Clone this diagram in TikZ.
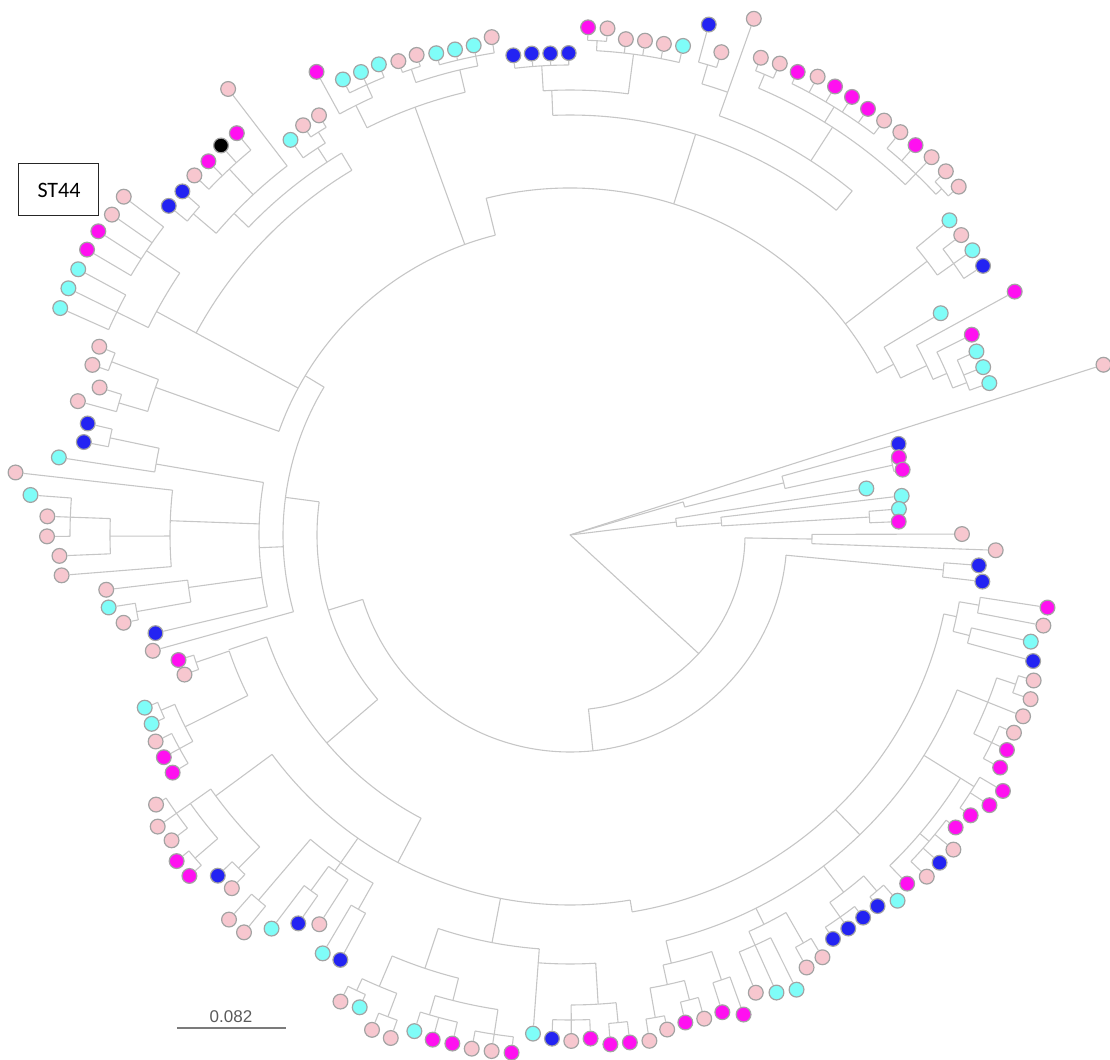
\documentclass[tikz,border=0pt]{standalone}
\usepackage{fontspec}
\newfontfamily\boxfont{Carlito}
\newfontfamily\barfont{Liberation Sans}
\usepackage{tikz}
\usetikzlibrary{backgrounds}
\definecolor{Branch}{HTML}{C6C6C6}
\definecolor{Rim}{HTML}{A3A3A3}
\definecolor{PinkTip}{HTML}{F7C7CF}
\definecolor{MagTip}{HTML}{FF10F0}
\definecolor{CyanTip}{HTML}{7FFDF8}
\definecolor{BlueTip}{HTML}{2323F2}
\definecolor{BarInk}{HTML}{5A5A5A}
\tikzset{
  branch/.style={draw=Branch,line width=.55pt},
  leaf/.style={circle,draw=Rim,line width=.6pt,minimum size=7.4pt,inner sep=0pt},
  pinkl/.style={leaf,fill=PinkTip},
  magl/.style={leaf,fill=MagTip},
  cyanl/.style={leaf,fill=CyanTip},
  bluel/.style={leaf,fill=BlueTip},
  blackl/.style={leaf,fill=black},
  stbox/.style={draw=black!85,line width=.5pt,minimum width=40pt,minimum height=26pt,font=\boxfont\fontsize{11}{13}\selectfont},
  barlab/.style={font=\barfont\fontsize{8.5}{10}\selectfont,text=BarInk,inner sep=1pt}
}
% parent radius, radius, attach index, first index, last index
\newcommand{\clade}[5]{%
  \begin{pgfonlayer}{background}
  \draw[branch] ({ta(#3)}:#1) -- ({ta(#3)}:#2);
  \draw[branch] ({ta(#4)}:#2) arc[start angle={ta(#4)},end angle={ta(#5)},radius=#2];
  \end{pgfonlayer}}
% index, parent radius, radius, style
\newcommand{\leaf}[4]{%
  \node[#4] (t#1) at ({ta(#1)}:#3) {};
  \draw[branch] ({ta(#1)}:#2) -- (t#1);}

\begin{document}
\begin{tikzpicture}[x=.5pt,y=.5pt,declare function={ta(\k)=17.7-(\k-1)*2.195;}]
  \useasboundingbox (-570,-525) rectangle (540,535);

  % right fan
  \leaf{1}{0}{560}{pinkl}
  \clade{0}{118}{1.64}{1.64}{2.82}
  \clade{118}{220}{2.82}{2}{3.5}
  \leaf{2}{220}{341}{bluel}
  \clade{220}{330}{3.5}{3}{4}
  \leaf{3}{330}{338}{magl} \leaf{4}{330}{339}{magl}
  \clade{0}{107}{5.9}{5}{7}
  \leaf{5}{107}{300}{cyanl}
  \clade{107}{152}{7}{6}{7.5}
  \leaf{6}{152}{334}{cyanl}
  \clade{152}{300}{7.5}{7}{8}
  \leaf{7}{300}{330}{cyanl} \leaf{8}{300}{329}{magl}

  % inner spine
  \clade{0}{175}{28.5}{9.5}{47.3}
  \clade{175}{242}{9.5}{9}{10}
  \leaf{9}{242}{392}{pinkl} \leaf{10}{242}{426}{pinkl}
  \clade{175}{217}{47.3}{11.5}{83.2}
  \clade{217}{375}{11.5}{11}{12}
  \leaf{11}{375}{410}{bluel} \leaf{12}{375}{415}{bluel}
  \clade{217}{253}{83.2}{72.6}{94.5}

  % lower left
  \clade{253}{320}{72.6}{62.7}{82.6}
  \clade{320}{360}{82.6}{79}{82.5}
  \clade{360}{430}{79}{78}{80.5}
  \clade{430}{445}{78}{77}{79}
  \leaf{77}{445}{463}{magl} \leaf{78}{445}{463}{magl} \leaf{79}{445}{463}{pinkl}
  \clade{430}{445}{80.5}{80}{81}
  \leaf{80}{445}{459}{cyanl} \leaf{81}{445}{459}{cyanl}
  \clade{360}{395}{82.5}{82}{83}
  \leaf{82}{395}{410}{pinkl} \leaf{83}{395}{411}{magl}
  \clade{320}{370}{62.7}{45.8}{74.5}
  \clade{370}{440}{74.5}{70.5}{75}
  \clade{440}{470}{70.5}{70}{71}
  \leaf{70}{470}{489}{pinkl} \leaf{71}{470}{490}{bluel}
  \clade{440}{465}{75}{72.5}{75}
  \clade{465}{495}{72.5}{72}{73}
  \leaf{72}{495}{511}{magl} \leaf{73}{495}{511}{magl}
  \clade{465}{482}{75}{74}{76}
  \leaf{74}{482}{502}{pinkl} \leaf{75}{482}{505}{pinkl} \leaf{76}{482}{494}{pinkl}
  \clade{370}{400}{66}{63.5}{68.5}
  \clade{400}{430}{63.5}{63}{64}
  \leaf{63}{430}{483}{bluel} \leaf{64}{430}{486}{cyanl}
  \clade{400}{410}{66}{65}{66.5}
  \leaf{65}{410}{463}{pinkl}
  \clade{410}{440}{66.5}{66}{67}
  \leaf{66}{440}{474}{bluel} \leaf{67}{440}{494}{cyanl}
  \clade{400}{480}{68.5}{68}{69}
  \leaf{68}{480}{514}{pinkl} \leaf{69}{480}{514}{pinkl}

  % bottom
  \clade{370}{415}{55}{52}{58.5}
  \clade{415}{457}{58.5}{56.5}{60.5}
  \clade{457}{480}{56.5}{54}{57.5}
  \clade{480}{505}{54}{53}{55}
  \leaf{53}{505}{521}{magl} \leaf{54}{505}{522}{pinkl} \leaf{55}{505}{523}{pinkl}
  \clade{480}{500}{57.5}{56}{58}
  \leaf{56}{500}{522}{magl} \leaf{57}{500}{523}{magl} \leaf{58}{500}{520}{cyanl}
  \clade{457}{490}{60.5}{59.5}{61.5}
  \clade{490}{515}{59.5}{59}{60}
  \leaf{59}{515}{534}{pinkl} \leaf{60}{515}{533}{pinkl}
  \clade{490}{503}{61.5}{61}{62}
  \leaf{61}{503}{517}{cyanl} \leaf{62}{503}{520}{pinkl}
  \clade{415}{429}{52}{48.5}{52}
  \leaf{52}{429}{500}{cyanl}
  \clade{429}{470}{48.5}{47.5}{50}
  \clade{470}{490}{47.5}{47}{48}
  \leaf{47}{490}{511}{magl} \leaf{48}{490}{511}{magl}
  \clade{470}{485}{50}{49}{51}
  \leaf{49}{485}{504}{magl} \leaf{50}{485}{506}{pinkl} \leaf{51}{485}{504}{bluel}

  % lower right
  \clade{370}{382}{45.8}{14.5}{45.8}
  \clade{382}{395}{14.5}{13.5}{15.5}
  \clade{395}{415}{13.5}{13}{14}
  \leaf{13}{415}{483}{magl} \leaf{14}{415}{482}{pinkl}
  \clade{395}{412}{15.5}{15}{16}
  \leaf{15}{412}{473}{cyanl} \leaf{16}{412}{480}{bluel}
  \clade{382}{417}{30}{19}{44}
  \clade{417}{450}{19}{17.5}{21}
  \clade{450}{470}{17.5}{17}{18}
  \leaf{17}{470}{486}{pinkl} \leaf{18}{470}{489}{pinkl}
  \leaf{19}{450}{488}{pinkl}
  \clade{450}{470}{21}{20}{22}
  \leaf{20}{470}{486}{pinkl} \leaf{21}{470}{487}{magl} \leaf{22}{470}{489}{magl}
  \clade{417}{460}{23.6}{23.6}{30}
  \clade{460}{476}{23.6}{23}{25}
  \leaf{23}{476}{503}{magl} \leaf{24}{476}{499}{magl} \leaf{25}{476}{489}{magl}
  \clade{460}{472}{27.5}{26}{29}
  \leaf{26}{472}{484}{magl} \leaf{27}{472}{496}{pinkl} \leaf{28}{472}{494}{bluel} \leaf{29}{472}{494}{pinkl}
  \leaf{30}{460}{485}{magl}
  \clade{417}{450}{33}{31.5}{34}
  \clade{450}{470}{31.5}{31}{32}
  \leaf{31}{470}{491}{cyanl} \leaf{32}{470}{482}{bluel}
  \clade{450}{468}{34}{33}{35}
  \leaf{33}{468}{482}{bluel} \leaf{34}{468}{482}{bluel} \leaf{35}{468}{482}{bluel}
  \clade{417}{435}{38}{36.5}{39}
  \clade{435}{470}{36.5}{36}{37}
  \leaf{36}{470}{492}{pinkl} \leaf{37}{470}{493}{pinkl}
  \clade{435}{450}{39}{38}{40}
  \leaf{38}{450}{508}{cyanl} \leaf{39}{450}{502}{cyanl} \leaf{40}{450}{494}{pinkl}
  \clade{417}{440}{44}{41.5}{44.5}
  \clade{440}{470}{41.5}{41}{42}
  \leaf{41}{470}{510}{magl} \leaf{42}{470}{501}{magl}
  \clade{440}{460}{44.5}{43.5}{45.5}
  \clade{460}{480}{43.5}{43}{44}
  \leaf{43}{480}{502}{pinkl} \leaf{44}{480}{501}{magl}
  \clade{460}{490}{45.5}{45}{46}
  \leaf{45}{490}{504}{pinkl} \leaf{46}{490}{512}{pinkl}

  % left
  \clade{253}{287}{94.5}{84}{105.2}
  \leaf{84}{287}{433}{pinkl}
  \clade{287}{311}{90}{85}{95.5}
  \leaf{85}{311}{426}{bluel}
  \clade{311}{385}{87.5}{86.5}{88}
  \clade{385}{440}{86.5}{86}{87}
  \leaf{86}{440}{455}{pinkl} \leaf{87}{440}{467}{cyanl}
  \leaf{88}{385}{467}{pinkl}
  \clade{311}{400}{92}{89}{94}
  \leaf{89}{400}{510}{pinkl}
  \clade{400}{460}{91}{90}{92}
  \leaf{90}{460}{511}{pinkl}
  \clade{460}{500}{92}{91}{93}
  \leaf{91}{500}{523}{pinkl} \leaf{92}{500}{523}{pinkl} \leaf{93}{500}{541}{cyanl}
  \leaf{94}{400}{558}{pinkl}
  \clade{311}{420}{95.5}{95}{96.5}
  \leaf{95}{420}{517}{cyanl}
  \clade{420}{470}{96.5}{96}{97}
  \leaf{96}{470}{495}{bluel} \leaf{97}{470}{495}{bluel}

  % upper left
  \clade{287}{309}{105.2}{100}{125.7}
  \clade{309}{440}{100}{98.5}{100.5}
  \clade{440}{470}{98.5}{98}{99}
  \leaf{98}{470}{510}{pinkl} \leaf{99}{470}{493}{pinkl}
  \clade{440}{490}{100.5}{100}{101}
  \leaf{100}{490}{507}{pinkl} \leaf{101}{490}{507}{pinkl}
  \clade{309}{425}{104}{104}{118}
  \clade{425}{470}{104}{103}{106.5}
  \clade{470}{505}{103}{102}{104}
  \leaf{102}{505}{558}{cyanl} \leaf{103}{505}{559}{cyanl} \leaf{104}{505}{559}{cyanl}
  \clade{470}{510}{106.5}{105}{108}
  \leaf{105}{510}{561}{magl} \leaf{106}{510}{561}{magl} \leaf{107}{510}{559}{pinkl} \leaf{108}{510}{560}{pinkl}
  \clade{425}{445}{118}{111}{118}
  \clade{445}{465}{111}{109.5}{115}
  \clade{465}{495}{109.5}{109}{110}
  \leaf{109}{495}{519}{bluel} \leaf{110}{495}{518}{bluel}
  \clade{465}{500}{112.5}{111}{114}
  \leaf{111}{500}{520}{pinkl} \leaf{112}{500}{520}{magl} \leaf{113}{500}{523}{blackl} \leaf{114}{500}{522}{magl}
  \leaf{115}{465}{562}{pinkl}
  \clade{445}{462}{117}{116}{117.5}
  \leaf{116}{462}{484}{cyanl}
  \clade{462}{475}{117.5}{117}{118}
  \leaf{117}{475}{489}{pinkl} \leaf{118}{475}{489}{pinkl}
  \clade{309}{455}{123}{120}{126}
  \clade{455}{480}{120}{119}{121}
  \leaf{119}{480}{528}{magl}
  \clade{480}{494}{121}{120}{122}
  \leaf{120}{494}{509}{cyanl} \leaf{121}{494}{508}{cyanl} \leaf{122}{494}{508}{cyanl}
  \clade{455}{478}{126}{123.5}{127}
  \clade{478}{492}{123.5}{123}{124}
  \leaf{123}{492}{504}{pinkl} \leaf{124}{492}{504}{pinkl}
  \clade{478}{488}{127}{125}{128}
  \leaf{125}{488}{500}{cyanl} \leaf{126}{488}{499}{cyanl} \leaf{127}{488}{499}{cyanl} \leaf{128}{488}{504}{pinkl}

  % top and upper right
  \clade{309}{347}{125.7}{125.7}{160.4}
  \clade{347}{420}{140}{131}{150}
  \clade{420}{445}{131}{130.5}{135.5}
  \clade{445}{470}{130.5}{129}{132}
  \leaf{129}{470}{483}{bluel} \leaf{130}{470}{483}{bluel} \leaf{131}{470}{482}{bluel} \leaf{132}{470}{482}{bluel}
  \clade{445}{485}{135.5}{133.5}{138}
  \clade{485}{495}{133.5}{133}{134}
  \leaf{133}{495}{508}{magl} \leaf{134}{495}{508}{pinkl}
  \leaf{135}{485}{499}{pinkl} \leaf{136}{485}{500}{pinkl} \leaf{137}{485}{500}{pinkl} \leaf{138}{485}{502}{cyanl}
  \clade{420}{445}{150}{141}{150}
  \clade{445}{470}{141}{139.5}{141}
  \clade{470}{490}{139.5}{139}{140}
  \leaf{139}{490}{529}{bluel} \leaf{140}{490}{506}{pinkl}
  \leaf{141}{470}{548}{pinkl}
  \clade{445}{485}{147}{142.5}{152}
  \clade{485}{500}{142.5}{142}{143}
  \leaf{142}{500}{514}{pinkl} \leaf{143}{500}{516}{pinkl}
  \clade{485}{503}{146.5}{144}{149}
  \leaf{144}{503}{516}{magl} \leaf{145}{503}{521}{pinkl} \leaf{146}{503}{521}{magl}
  \leaf{147}{503}{521}{magl} \leaf{148}{503}{520}{magl} \leaf{149}{503}{520}{pinkl}
  \clade{485}{500}{152}{150}{153.5}
  \leaf{150}{500}{521}{pinkl} \leaf{151}{500}{521}{magl} \leaf{152}{500}{523}{pinkl}
  \clade{500}{508}{153.5}{153}{154}
  \leaf{153}{508}{523}{pinkl} \leaf{154}{508}{522}{pinkl}
  \clade{347}{450}{156}{155}{157}
  \leaf{155}{450}{493}{cyanl}
  \clade{450}{470}{157}{156}{158}
  \leaf{156}{470}{493}{pinkl} \leaf{157}{470}{493}{cyanl} \leaf{158}{470}{493}{bluel}
  \clade{347}{366}{160.4}{159}{161.5}
  \leaf{159}{366}{432}{cyanl}
  \clade{366}{395}{161.5}{160}{162.5}
  \leaf{160}{395}{507}{magl}
  \clade{395}{410}{162.5}{161}{163.5}
  \leaf{161}{410}{449}{magl}
  \clade{410}{425}{163.5}{162}{164}
  \leaf{162}{425}{446}{cyanl} \leaf{163}{425}{446}{cyanl} \leaf{164}{425}{446}{cyanl}

  % label and scale
  \node[stbox] (st44) at (-511,345) {ST44};
  \coordinate (sbl) at (-393,-493);
  \coordinate (sbr) at (-284,-493);
  \draw[draw=BarInk!80,line width=1pt] (sbl) -- (sbr);
  \node[barlab,anchor=south] (sblab) at (-339,-490) {0.082};
\end{tikzpicture}
\end{document}
